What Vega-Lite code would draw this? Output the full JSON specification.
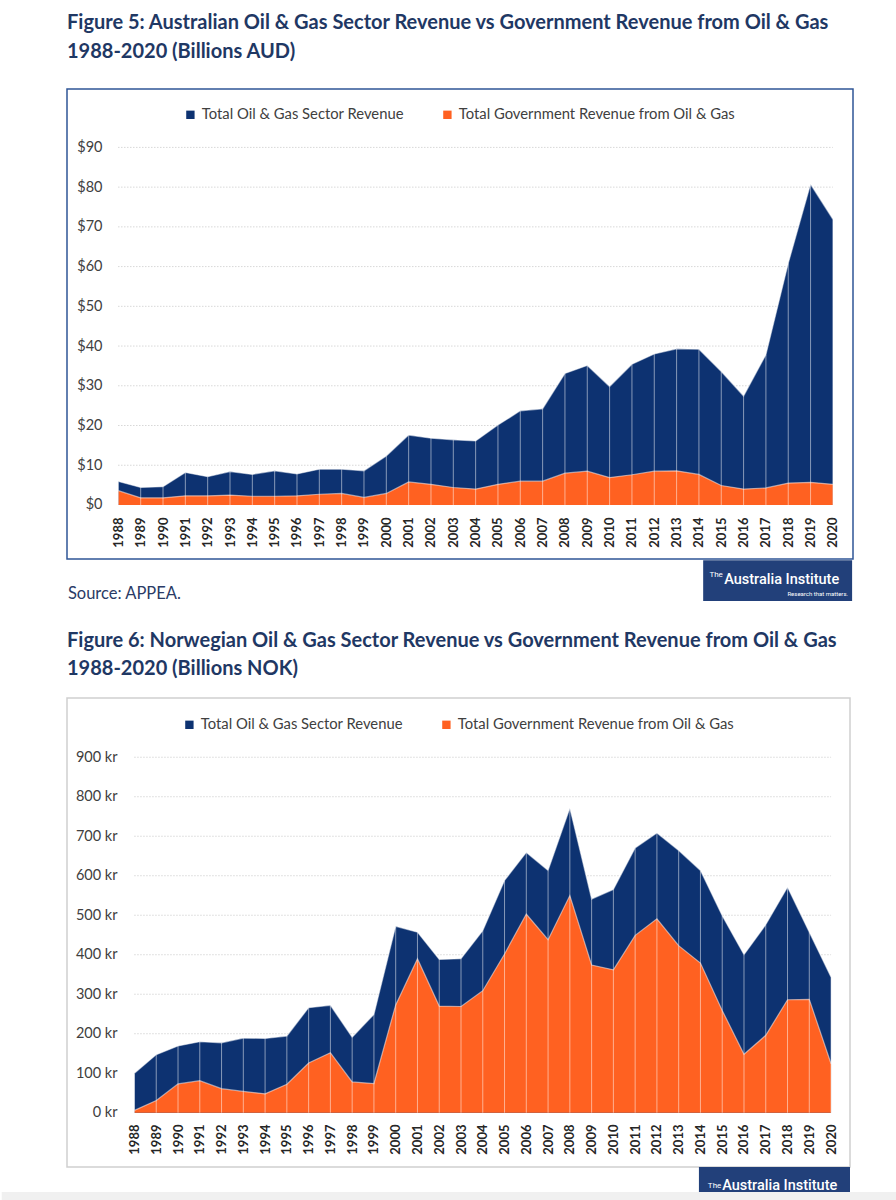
{
  "$schema": "https://vega.github.io/schema/vega-lite/v6.json",
  "background": "white",
  "padding": {"left": 0, "top": 11, "right": 0, "bottom": 0},
  "spacing": 25,
  "config": {"font": "Lato", "view": {"stroke": null}},
  "resolve": {
    "scale": {"x": "independent", "y": "independent", "color": "independent"},
    "legend": {"color": "independent"}
  },
  "vconcat": [
    {
      "width": 786,
      "height": 470,
      "view": {"stroke": "#2F5597", "strokeWidth": 1.5},
      "title": {
        "text": ["Figure 5: Australian Oil & Gas Sector Revenue vs Government Revenue from Oil & Gas", "1988-2020 (Billions AUD)"],
        "anchor": "start",
        "frame": "group",
        "font": "Lato",
        "fontSize": 20,
        "fontWeight": "bold",
        "color": "#1F3864",
        "lineHeight": 29,
        "offset": 27.5
      },
      "data": {"values": [
        {"year": 1988, "total": 5.9, "gov": 3.6},
        {"year": 1989, "total": 4.4, "gov": 1.8},
        {"year": 1990, "total": 4.6, "gov": 1.8},
        {"year": 1991, "total": 8.2, "gov": 2.3},
        {"year": 1992, "total": 7.1, "gov": 2.3},
        {"year": 1993, "total": 8.4, "gov": 2.5},
        {"year": 1994, "total": 7.7, "gov": 2.2},
        {"year": 1995, "total": 8.6, "gov": 2.2},
        {"year": 1996, "total": 7.8, "gov": 2.3},
        {"year": 1997, "total": 9.0, "gov": 2.7},
        {"year": 1998, "total": 9.0, "gov": 2.9},
        {"year": 1999, "total": 8.6, "gov": 1.9},
        {"year": 2000, "total": 12.3, "gov": 2.9},
        {"year": 2001, "total": 17.6, "gov": 5.8},
        {"year": 2002, "total": 16.8, "gov": 5.2},
        {"year": 2003, "total": 16.4, "gov": 4.4},
        {"year": 2004, "total": 16.1, "gov": 4.0},
        {"year": 2005, "total": 20.1, "gov": 5.2},
        {"year": 2006, "total": 23.7, "gov": 6.0},
        {"year": 2007, "total": 24.2, "gov": 6.0},
        {"year": 2008, "total": 33.1, "gov": 8.0},
        {"year": 2009, "total": 35.1, "gov": 8.5},
        {"year": 2010, "total": 29.8, "gov": 6.9},
        {"year": 2011, "total": 35.4, "gov": 7.6},
        {"year": 2012, "total": 38.0, "gov": 8.5},
        {"year": 2013, "total": 39.3, "gov": 8.6},
        {"year": 2014, "total": 39.2, "gov": 7.7},
        {"year": 2015, "total": 33.6, "gov": 4.9},
        {"year": 2016, "total": 27.4, "gov": 4.0},
        {"year": 2017, "total": 37.8, "gov": 4.3},
        {"year": 2018, "total": 60.8, "gov": 5.5},
        {"year": 2019, "total": 80.7, "gov": 5.7},
        {"year": 2020, "total": 71.9, "gov": 5.2}
      ]},
      "layer": [
        {
          "data": {"values": [{"tick": 10}, {"tick": 20}, {"tick": 30}, {"tick": 40}, {"tick": 50}, {"tick": 60}, {"tick": 70}, {"tick": 80}, {"tick": 90}]},
          "mark": {"type": "rule", "strokeDash": [1, 2], "color": "#c4c4c4", "strokeWidth": 1},
          "encoding": {
            "x": {
              "datum": 1988, "type": "quantitative", "title": null,
              "scale": {"domain": [1985.7, 2020.9], "nice": false, "zero": false},
              "axis": {
                "values": [1988, 1989, 1990, 1991, 1992, 1993, 1994, 1995, 1996, 1997, 1998, 1999, 2000, 2001, 2002, 2003, 2004, 2005, 2006, 2007, 2008, 2009, 2010, 2011, 2012, 2013, 2014, 2015, 2016, 2017, 2018, 2019, 2020],
                "tickCount": 40,
                "format": "d", "labelAngle": -90, "offset": -42, "ticks": false, "domain": false, "grid": false,
                "labelPadding": 0, "labelFont": "Lato", "labelFontWeight": "bold", "labelFontSize": 13,
                "labelColor": "#262626", "labelFlush": false, "labelOverlap": false, "title": null
              }
            },
            "x2": {"datum": 2020},
            "y": {
              "field": "tick", "type": "quantitative", "title": null,
              "scale": {"domain": [-13.6, 104.7], "nice": false, "zero": false},
              "axis": {
                "values": [0, 10, 20, 30, 40, 50, 60, 70, 80, 90],
                "labelExpr": "'$' + datum.value", "offset": -35, "ticks": false, "domain": false, "grid": false,
                "labelPadding": 0, "labelFont": "Lato", "labelFontSize": 14.5, "labelColor": "#404040", "title": null
              }
            }
          }
        },
        {
          "mark": {"type": "area"},
          "encoding": {
            "x": {"field": "year", "type": "quantitative", "title": null},
            "y": {"field": "total", "type": "quantitative", "title": null},
            "y2": {"datum": 0},
            "color": {
              "datum": "Total Oil & Gas Sector Revenue", "type": "nominal", "title": null,
              "scale": {"domain": ["Total Oil & Gas Sector Revenue", "Total Government Revenue from Oil & Gas"], "range": ["#0D3271", "#FF6121"]},
              "legend": {
                "orient": "none", "legendX": 116, "legendY": 18, "direction": "horizontal", "title": null,
                "symbolType": "square", "symbolSize": 70, "symbolStrokeWidth": 0, "labelFont": "Lato",
                "labelFontSize": 14.8, "labelColor": "#404040", "labelLimit": 0, "columnPadding": 36, "labelOffset": 4
              }
            }
          }
        },
        {
          "mark": {"type": "area"},
          "encoding": {
            "x": {"field": "year", "type": "quantitative", "title": null},
            "y": {"field": "gov", "type": "quantitative", "title": null},
            "y2": {"datum": 0},
            "color": {"datum": "Total Government Revenue from Oil & Gas", "type": "nominal", "title": null}
          }
        },
        {
          "mark": {"type": "rule", "color": "white", "opacity": 0.5, "strokeWidth": 1},
          "encoding": {
            "x": {"field": "year", "type": "quantitative", "title": null},
            "y": {"field": "total", "type": "quantitative", "title": null},
            "y2": {"datum": 0}
          }
        },
        {
          "mark": {"type": "line", "color": "white", "opacity": 0.5, "strokeWidth": 1.2},
          "encoding": {
            "x": {"field": "year", "type": "quantitative", "title": null},
            "y": {"field": "total", "type": "quantitative", "title": null}
          }
        },
        {
          "mark": {"type": "line", "color": "white", "opacity": 0.5, "strokeWidth": 1.2},
          "encoding": {
            "x": {"field": "year", "type": "quantitative", "title": null},
            "y": {"field": "gov", "type": "quantitative", "title": null}
          }
        },
        {
          "data": {"values": [{"label": "Source: APPEA."}]},
          "mark": {"type": "text", "align": "left", "baseline": "middle", "font": "Lato", "fontSize": 16.5, "color": "#2A3B66"},
          "encoding": {
            "x": {"datum": 1985.74, "type": "quantitative"},
            "y": {"datum": -22.4, "type": "quantitative"},
            "text": {"field": "label"}
          }
        },
        {
          "data": {"values": [{"label": "The Australia Institute"}]},
          "mark": {"type": "rect", "color": "#22407A"},
          "encoding": {
            "x": {"datum": 2014.19, "type": "quantitative"},
            "x2": {"datum": 2020.86},
            "y": {"datum": -13.9, "type": "quantitative"},
            "y2": {"datum": -24.2}
          }
        },
        {
          "data": {"values": [{"label": "The"}]},
          "mark": {"type": "text", "align": "left", "baseline": "alphabetic", "font": "Roboto", "fontSize": 8, "color": "white"},
          "encoding": {
            "x": {"datum": 2014.47, "type": "quantitative"},
            "y": {"datum": -18.1, "type": "quantitative"},
            "text": {"field": "label"}
          }
        },
        {
          "data": {"values": [{"label": "Australia Institute"}]},
          "mark": {"type": "text", "align": "left", "baseline": "alphabetic", "font": "Roboto", "fontWeight": 500, "fontSize": 14.5, "color": "white"},
          "encoding": {
            "x": {"datum": 2015.13, "type": "quantitative"},
            "y": {"datum": -19.9, "type": "quantitative"},
            "text": {"field": "label"}
          }
        },
        {
          "data": {"values": [{"label": "Research that matters."}]},
          "mark": {"type": "text", "align": "right", "baseline": "alphabetic", "font": "Roboto", "fontSize": 6, "color": "white"},
          "encoding": {
            "x": {"datum": 2020.68, "type": "quantitative"},
            "y": {"datum": -22.9, "type": "quantitative"},
            "text": {"field": "label"}
          }
        }
      ]
    },
    {
      "width": 783,
      "height": 469,
      "view": {"stroke": "#D0D0D0", "strokeWidth": 1.5},
      "title": {
        "text": ["Figure 6: Norwegian Oil & Gas Sector Revenue vs Government Revenue from Oil & Gas", "1988-2020 (Billions NOK)"],
        "anchor": "start",
        "frame": "group",
        "font": "Lato",
        "fontSize": 20,
        "fontWeight": "bold",
        "color": "#1F3864",
        "lineHeight": 28,
        "offset": 19.5
      },
      "data": {"values": [
        {"year": 1988, "total": 100, "gov": 6},
        {"year": 1989, "total": 147, "gov": 31},
        {"year": 1990, "total": 169, "gov": 73},
        {"year": 1991, "total": 180, "gov": 81},
        {"year": 1992, "total": 177, "gov": 61},
        {"year": 1993, "total": 189, "gov": 54},
        {"year": 1994, "total": 188, "gov": 48},
        {"year": 1995, "total": 194, "gov": 72},
        {"year": 1996, "total": 266, "gov": 126},
        {"year": 1997, "total": 272, "gov": 152},
        {"year": 1998, "total": 191, "gov": 78},
        {"year": 1999, "total": 249, "gov": 74},
        {"year": 2000, "total": 472, "gov": 273},
        {"year": 2001, "total": 457, "gov": 390},
        {"year": 2002, "total": 388, "gov": 270},
        {"year": 2003, "total": 390, "gov": 269},
        {"year": 2004, "total": 461, "gov": 309},
        {"year": 2005, "total": 588, "gov": 402},
        {"year": 2006, "total": 659, "gov": 503},
        {"year": 2007, "total": 613, "gov": 438},
        {"year": 2008, "total": 771, "gov": 550},
        {"year": 2009, "total": 541, "gov": 374},
        {"year": 2010, "total": 565, "gov": 362},
        {"year": 2011, "total": 670, "gov": 449},
        {"year": 2012, "total": 708, "gov": 491},
        {"year": 2013, "total": 664, "gov": 423},
        {"year": 2014, "total": 613, "gov": 379},
        {"year": 2015, "total": 499, "gov": 259},
        {"year": 2016, "total": 400, "gov": 148},
        {"year": 2017, "total": 476, "gov": 196},
        {"year": 2018, "total": 571, "gov": 286},
        {"year": 2019, "total": 457, "gov": 287},
        {"year": 2020, "total": 343, "gov": 124}
      ]},
      "layer": [
        {
          "data": {"values": [{"tick": 100}, {"tick": 200}, {"tick": 300}, {"tick": 400}, {"tick": 500}, {"tick": 600}, {"tick": 700}, {"tick": 800}, {"tick": 900}]},
          "mark": {"type": "rule", "strokeDash": [1, 2], "color": "#c4c4c4", "strokeWidth": 1},
          "encoding": {
            "x": {
              "datum": 1988, "type": "quantitative", "title": null,
              "scale": {"domain": [1984.9, 2020.87], "nice": false, "zero": false},
              "axis": {
                "values": [1988, 1989, 1990, 1991, 1992, 1993, 1994, 1995, 1996, 1997, 1998, 1999, 2000, 2001, 2002, 2003, 2004, 2005, 2006, 2007, 2008, 2009, 2010, 2011, 2012, 2013, 2014, 2015, 2016, 2017, 2018, 2019, 2020],
                "tickCount": 40,
                "format": "d", "labelAngle": -90, "offset": -43, "ticks": false, "domain": false, "grid": false,
                "labelPadding": 0, "labelFont": "Lato", "labelFontWeight": "bold", "labelFontSize": 13,
                "labelColor": "#262626", "labelFlush": false, "labelOverlap": false, "title": null
              }
            },
            "x2": {"datum": 2020},
            "y": {
              "field": "tick", "type": "quantitative", "title": null,
              "scale": {"domain": [-137.4, 1050], "nice": false, "zero": false},
              "axis": {
                "values": [0, 100, 200, 300, 400, 500, 600, 700, 800, 900],
                "labelExpr": "datum.value + ' kr'", "offset": -50, "ticks": false, "domain": false, "grid": false,
                "labelPadding": 0, "labelFont": "Lato", "labelFontSize": 14.5, "labelColor": "#404040", "title": null
              }
            }
          }
        },
        {
          "mark": {"type": "area"},
          "encoding": {
            "x": {"field": "year", "type": "quantitative", "title": null},
            "y": {"field": "total", "type": "quantitative", "title": null},
            "y2": {"datum": 0},
            "color": {
              "datum": "Total Oil & Gas Sector Revenue", "type": "nominal", "title": null,
              "scale": {"domain": ["Total Oil & Gas Sector Revenue", "Total Government Revenue from Oil & Gas"], "range": ["#0D3271", "#FF6121"]},
              "legend": {
                "orient": "none", "legendX": 115, "legendY": 19, "direction": "horizontal", "title": null,
                "symbolType": "square", "symbolSize": 70, "symbolStrokeWidth": 0, "labelFont": "Lato",
                "labelFontSize": 14.8, "labelColor": "#404040", "labelLimit": 0, "columnPadding": 36, "labelOffset": 4
              }
            }
          }
        },
        {
          "mark": {"type": "area"},
          "encoding": {
            "x": {"field": "year", "type": "quantitative", "title": null},
            "y": {"field": "gov", "type": "quantitative", "title": null},
            "y2": {"datum": 0},
            "color": {"datum": "Total Government Revenue from Oil & Gas", "type": "nominal", "title": null}
          }
        },
        {
          "mark": {"type": "rule", "color": "white", "opacity": 0.5, "strokeWidth": 1},
          "encoding": {
            "x": {"field": "year", "type": "quantitative", "title": null},
            "y": {"field": "total", "type": "quantitative", "title": null},
            "y2": {"datum": 0}
          }
        },
        {
          "mark": {"type": "line", "color": "white", "opacity": 0.5, "strokeWidth": 1.2},
          "encoding": {
            "x": {"field": "year", "type": "quantitative", "title": null},
            "y": {"field": "total", "type": "quantitative", "title": null}
          }
        },
        {
          "mark": {"type": "line", "color": "white", "opacity": 0.5, "strokeWidth": 1.2},
          "encoding": {
            "x": {"field": "year", "type": "quantitative", "title": null},
            "y": {"field": "gov", "type": "quantitative", "title": null}
          }
        },
        {
          "data": {"values": [{"label": "The Australia Institute"}]},
          "mark": {"type": "rect", "color": "#22407A"},
          "encoding": {
            "x": {"datum": 2013.93, "type": "quantitative"},
            "x2": {"datum": 2020.87},
            "y": {"datum": -137.4, "type": "quantitative"},
            "y2": {"datum": -200.7}
          }
        },
        {
          "data": {"values": [{"label": "The"}]},
          "mark": {"type": "text", "align": "left", "baseline": "alphabetic", "font": "Roboto", "fontSize": 8, "color": "white"},
          "encoding": {
            "x": {"datum": 2014.34, "type": "quantitative"},
            "y": {"datum": -191.5, "type": "quantitative"},
            "text": {"field": "label"}
          }
        },
        {
          "data": {"values": [{"label": "Australia Institute"}]},
          "mark": {"type": "text", "align": "left", "baseline": "alphabetic", "font": "Roboto", "fontWeight": 500, "fontSize": 14.5, "color": "white"},
          "encoding": {
            "x": {"datum": 2015.0, "type": "quantitative"},
            "y": {"datum": -195.6, "type": "quantitative"},
            "text": {"field": "label"}
          }
        },
        {
          "data": {"values": [{"label": "page footer"}]},
          "mark": {"type": "rect", "color": "#F0F0F0"},
          "encoding": {
            "x": {"datum": 1981.9, "type": "quantitative"},
            "x2": {"datum": 2023.08},
            "y": {"datum": -200.7, "type": "quantitative"},
            "y2": {"datum": -226}
          }
        }
      ]
    }
  ]
}
